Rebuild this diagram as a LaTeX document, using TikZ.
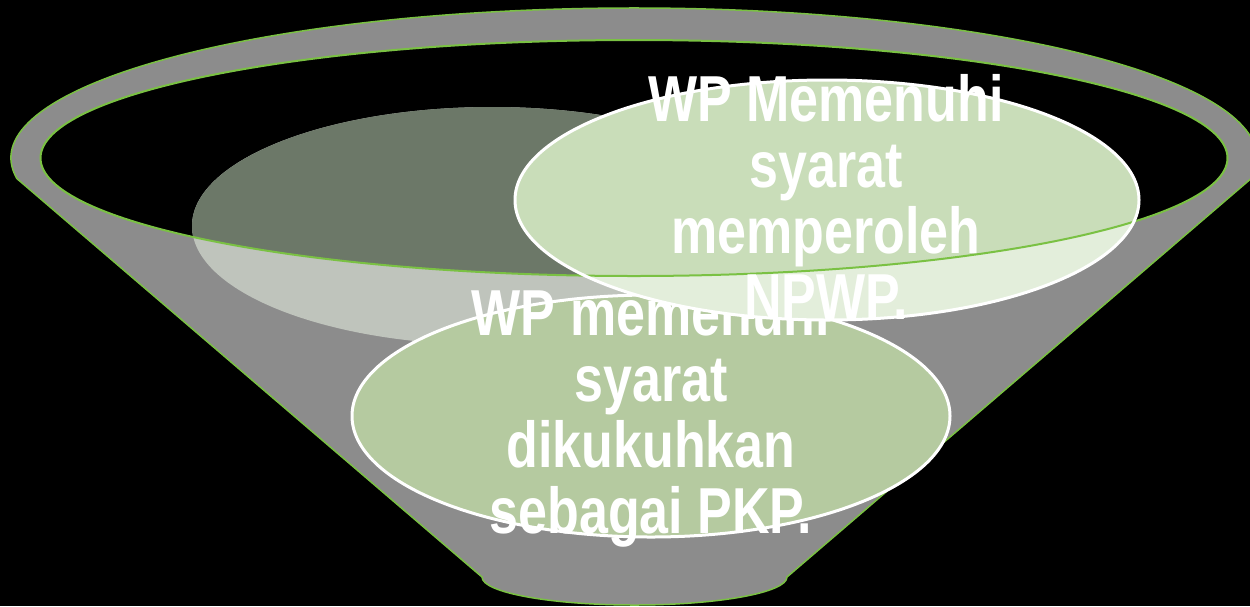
\documentclass[tikz,border=0pt]{standalone}
\usepackage{fontspec}
\newfontfamily\wpfont[FakeStretch=0.8]{Liberation Sans Bold}
\usepackage{xcolor}
\usepackage{tikz}
\usetikzlibrary{positioning,shapes.geometric}

\definecolor{rimgreen}{RGB}{122,193,67}
\definecolor{funnelgray}{RGB}{140,140,140}
\definecolor{shadehigh}{RGB}{108,120,104}
\definecolor{shadelow}{RGB}{191,196,188}
\definecolor{npwphigh}{RGB}{201,221,185}
\definecolor{npwplow}{RGB}{227,238,219}
\definecolor{pkpfill}{RGB}{181,202,160}

\begin{document}
\begin{tikzpicture}[x=1pt, y=-1pt,
  rim/.style={draw=rimgreen, line width=2pt},
  bubble/.style={ellipse, inner sep=0pt, draw=white, line width=3pt},
  caption/.style={text=white, align=center, font=\wpfont\fontsize{65}{66}\selectfont},
]

\fill[black] (0,0) rectangle (1250,606);
\useasboundingbox (0,0) rectangle (1250,606);

\coordinate (mouth) at (634,158);
\coordinate (rimL) at (16.9,178.6);
\coordinate (baseR) at (787,577);

\filldraw[fill=funnelgray, rim, line width=1.5pt] (rimL)
  arc[start angle=172.1, end angle=367.9, x radius=623, y radius=150]
  -- (baseR) arc[start angle=0, end angle=180, x radius=152.5, y radius=28] -- cycle;
\fill[black] (mouth) ellipse [x radius=593.5, y radius=118];

\node[bubble, draw=none, minimum width=600pt, minimum height=238pt] (blank) at (492,226) {};
\begin{scope}
  \clip (blank.center) ellipse [x radius=300, y radius=119];
  \fill[shadelow] (0,0) rectangle (1250,606);
  \fill[shadehigh] (mouth) ellipse [x radius=593.5, y radius=118];
\end{scope}

\node[bubble, fill=pkpfill, minimum width=598pt, minimum height=242pt] (pkp) at (651,416) {};
\node[caption] (pkptext) at (651,418) {WP memenuhi\\syarat\\dikukuhkan\\sebagai PKP.};

\begin{scope}
  \clip (827,200) ellipse [x radius=312, y radius=120];
  \fill[npwplow] (0,0) rectangle (1250,606);
  \fill[npwphigh] (mouth) ellipse [x radius=593.5, y radius=118];
\end{scope}
\draw[rim] (mouth) ellipse [x radius=593.5, y radius=118];

\node[bubble, minimum width=624pt, minimum height=240pt] (npwp) at (827,200) {};
\node[caption] (npwptext) at (826,197) {WP Memenuhi\\syarat\\memperoleh\\NPWP.};

\end{tikzpicture}
\end{document}
